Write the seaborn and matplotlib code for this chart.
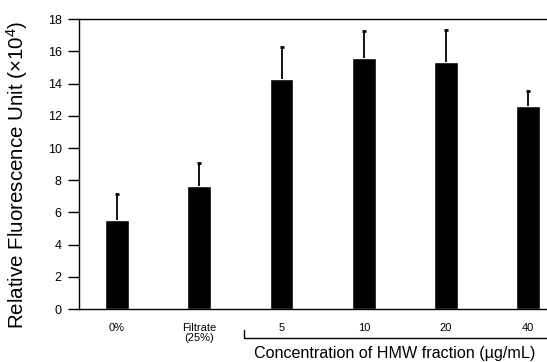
import matplotlib
matplotlib.use("Agg")
import matplotlib.pyplot as plt
import matplotlib.transforms as mtransforms
import pandas as pd
import seaborn as sns

# values (x10^4)
groups = ["0%", "Filtrate\n(25%)", "5", "10", "20", "40"]
means = [5.51, 7.66, 14.27, 15.59, 15.32, 12.59]
errors = [1.63, 1.40, 2.02, 1.68, 2.01, 0.93]
y_ticks = [0, 2, 4, 6, 8, 10, 12, 14, 16, 18]

df = pd.DataFrame({"group": groups, "mean": means})

sns.set_style("ticks")
plt.rcParams["font.family"] = ["Liberation Sans", "DejaVu Sans"]
plt.rcParams["mathtext.fontset"] = "custom"
plt.rcParams["mathtext.rm"] = "Liberation Sans"
plt.rcParams["mathtext.default"] = "regular"
plt.rcParams["text.color"] = "black"
plt.rcParams["axes.labelcolor"] = "black"
plt.rcParams["xtick.color"] = "black"
plt.rcParams["ytick.color"] = "black"

fig = plt.figure(figsize=(5.47, 3.62), dpi=100)
W, H = 547, 362
# axes from x=79 to just past the right edge, y from 19.3 to 309
ax = fig.add_axes([79 / W, (H - 309) / H, (551 - 79) / W, (309 - 19.3) / H])

sns.barplot(data=df, x="group", y="mean", color="black", width=0.29,
            saturation=1, errorbar=None, ax=ax)

# upward-only error bars with a small cap on top
xs = list(range(len(groups)))
tops = [m + e for m, e in zip(means, errors)]
ax.vlines(xs, means, tops, color="black", lw=1.3)
ax.plot(xs, tops, linestyle="none", marker="_", markersize=3.2,
        markeredgewidth=2, color="black")

ax.set_xlim(-0.462, 5.275)
ax.set_ylim(0, 18)
ax.set_yticks(y_ticks)
ax.tick_params(axis="y", length=8, width=1, pad=4.5, labelsize=9,
               direction="out", color="black", labelcolor="black")
ax.tick_params(axis="x", length=0, pad=10, labelsize=8, labelcolor="black")
for lbl in ax.get_xticklabels():
    lbl.set_linespacing(1.0)
ax.set_xlabel("")
ax.set_ylabel("Relative Fluorescence Unit (×10$^{4}$)", fontsize=14.8,
              color="black")
ax.yaxis.set_label_coords(-0.104, 0.4626)

for side in ["left", "top", "bottom"]:
    ax.spines[side].set_color("black")
    ax.spines[side].set_linewidth(1)
ax.spines["right"].set_visible(False)
ax.spines["top"].set_visible(True)

# bracket under the HMW concentrations
trans = mtransforms.blended_transform_factory(ax.transData, ax.transAxes)
ax.plot([1.544, 1.544, 5.4], [-0.072, -0.101, -0.101], color="black",
        lw=1, transform=trans, clip_on=False)
fig.text(395 / W, 1 - 358.3 / H, "Concentration of HMW fraction (µg/mL)",
         ha="center", va="baseline", fontsize=11.6, color="black")

fig.savefig("out.png", dpi=100)
